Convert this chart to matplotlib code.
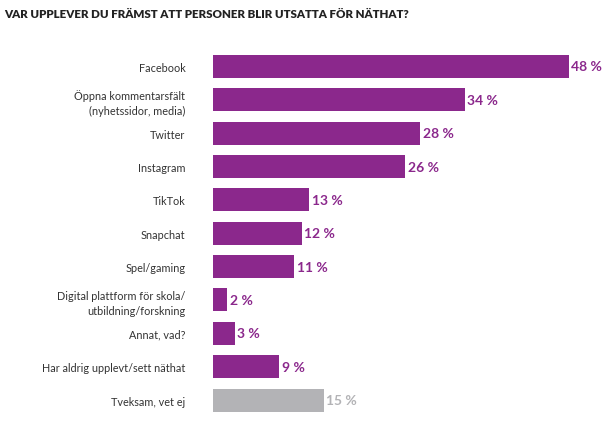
import matplotlib
matplotlib.use('Agg')
import matplotlib.pyplot as plt

categories = ['Facebook', 'Öppna kommentarsfält\n(nyhetssidor, media)', 'Twitter', 'Instagram',
              'TikTok', 'Snapchat', 'Spel/gaming', 'Digital plattform för skola/\nutbildning/forskning',
              'Annat, vad?', 'Har aldrig upplevt/sett näthat', 'Tveksam, vet ej']
values = [48, 34, 28, 26, 13, 12, 11, 2, 3, 9, 15]
value_labels = ['48 %', '34 %', '28 %', '26 %', '13 %', '12 %', '11 %', '2 %', '3 %', '9 %', '15 %']

purple = '#8B288C'
grey = '#B3B3B6'
colors = [purple] * 10 + [grey]

plt.rcParams['font.family'] = ['Lato', 'DejaVu Sans']

fig = plt.figure(figsize=(6.15, 4.27), dpi=100)
ax = fig.add_axes([212.5 / 615, 1 - 417.7 / 427, (615 - 212.5) / 615, 366.9 / 427])

y = range(len(categories))
ax.barh(y, values, height=0.69, color=colors)
ax.set_ylim(len(categories) - 0.5, -0.5)
ax.set_xlim(0, (615 - 212.5) / 7.42)

for i, (v, lab) in enumerate(zip(values, value_labels)):
    ax.text(v + 0.35, i, lab, va='center', ha='left', fontsize=10, fontweight='bold', color=colors[i])

ax.set_yticks(list(y))
ax.set_yticklabels(categories, fontsize=7.8, color='#333333', linespacing=1.45)
ax.tick_params(axis='y', length=0, pad=19.5)
ax.set_xticks([])
for s in ax.spines.values():
    s.set_visible(False)

fig.text(4 / 615, 1 - 14 / 427, 'VAR UPPLEVER DU FRÄMST ATT PERSONER BLIR UTSATTA FÖR NÄTHAT?',
         fontsize=8.3, fontweight='heavy', color='#222222', va='center', ha='left')

fig.savefig('out.png', dpi=100)
